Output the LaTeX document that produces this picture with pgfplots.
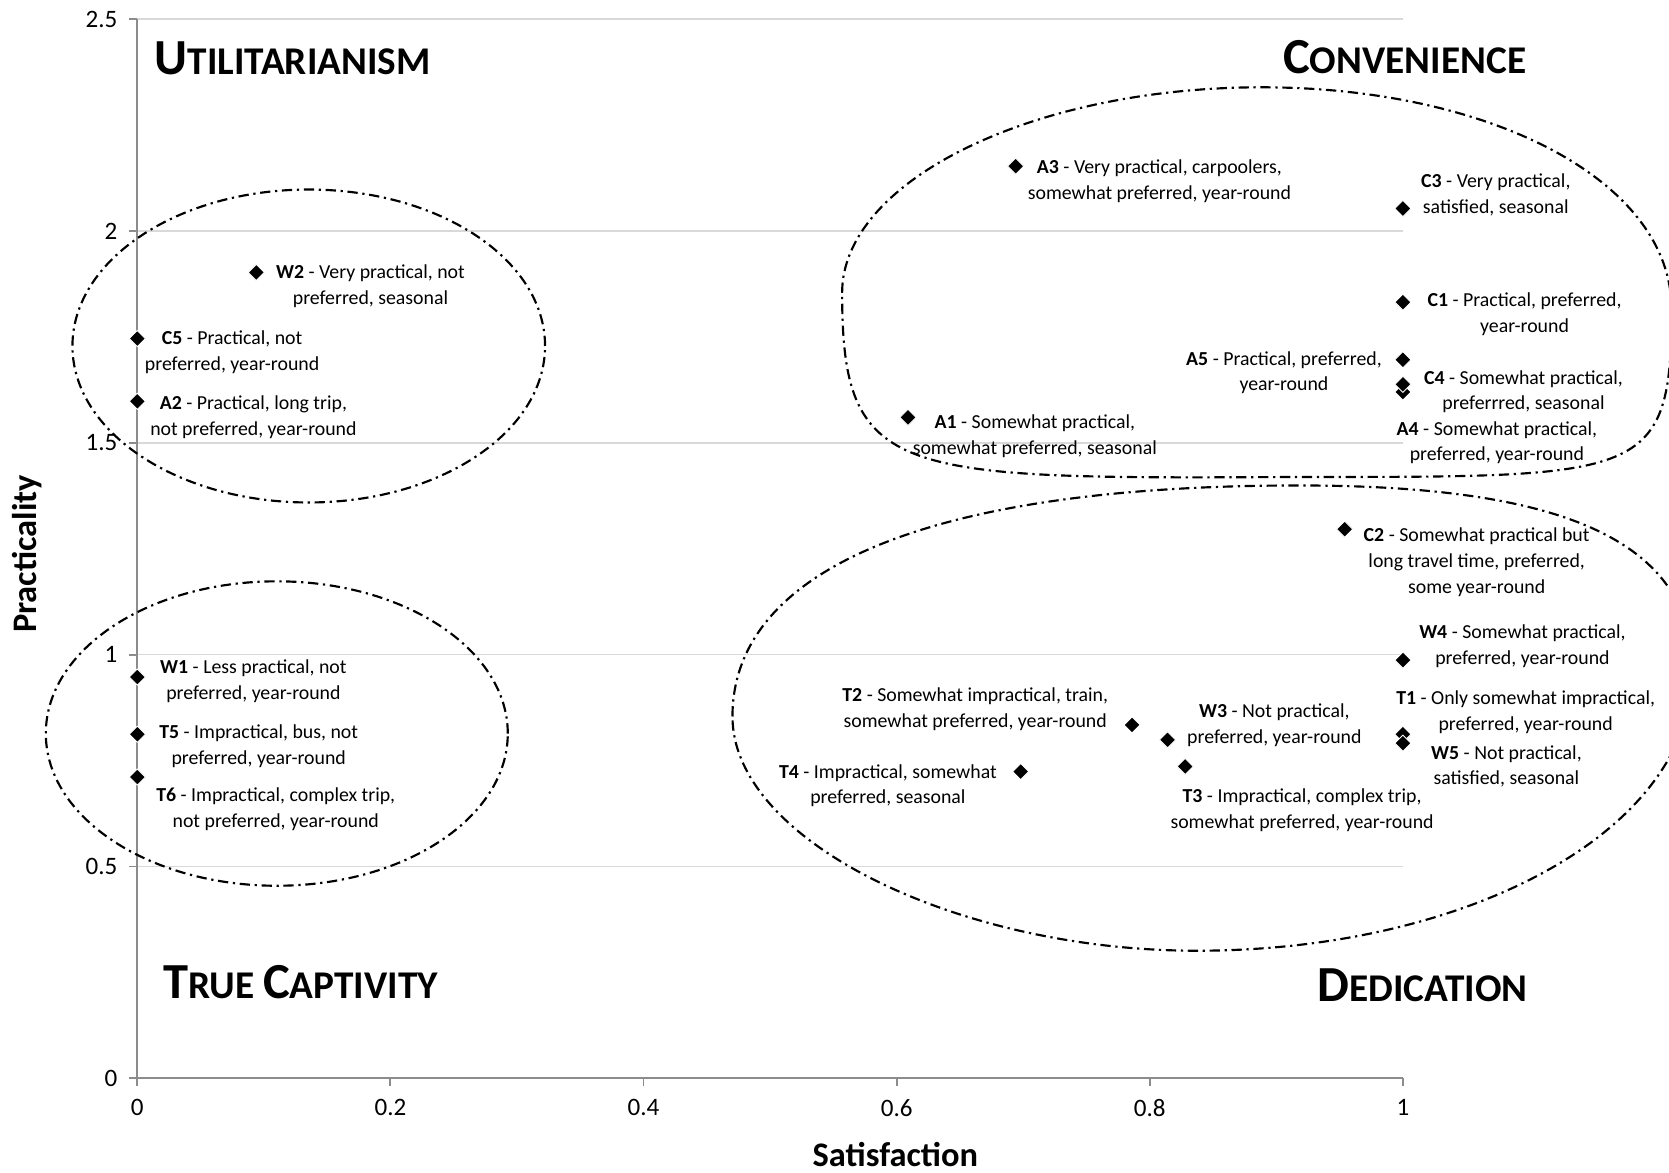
\documentclass[border=0pt]{standalone}
\usepackage{fontspec}
\setmainfont{Carlito}
\usepackage{pgfplots}
\pgfplotsset{compat=1.18}
\definecolor{axgray}{HTML}{8C8C8C}
\definecolor{gridgray}{HTML}{D9D9D9}
\begin{document}
\begin{tikzpicture}
\begin{axis}[
  at={(0,0)}, anchor=south west,
  scale only axis, width=23.78cm, height=19.9cm,
  xmin=0, xmax=1, ymin=0, ymax=2.5,
  axis x line*=bottom, axis y line*=left,
  axis line style={draw=axgray, line width=1.1pt},
  xtick={0,0.2,0.4,0.6,0.8,1}, ytick={0,0.5,1,1.5,2,2.5},
  ymajorgrids, grid style={draw=gridgray, line width=0.9pt},
  tick align=outside, major tick length=0.15cm,
  tick style={draw=axgray, line width=1pt},
  /pgf/number format/assume math mode=true,
  ticklabel style={font=\fontsize{13.4}{16}\selectfont},
  xticklabel style={yshift=-0.12cm},
  yticklabel style={xshift=-0.1cm},
  xlabel={Satisfaction}, ylabel={Practicality},
  every axis x label/.style={at={(axis description cs:0.599,0)}, yshift=-1.44cm, anchor=center, font=\bfseries\fontsize{18.4}{22}\selectfont},
  every axis y label/.style={at={(axis description cs:0,0.495)}, xshift=-2.08cm, rotate=90, anchor=center, font=\bfseries\fontsize{18.4}{22}\selectfont},
  clip=false,
]
\addplot[only marks, mark=square*, mark size=3.05pt, mark options={rotate=45, fill=black, draw=white, line width=0.45pt}] table[row sep=\\] {
x y \\
0 1.746 \\
0 1.598 \\
0 0.947 \\
0 0.812 \\
0 0.711 \\
0.094 1.902 \\
0.694 2.153 \\
0.609 1.560 \\
1 2.053 \\
1 1.832 \\
1 1.696 \\
1 1.620 \\
1 1.638 \\
0.954 1.296 \\
1 0.987 \\
1 0.812 \\
1 0.791 \\
0.786 0.834 \\
0.814 0.799 \\
0.828 0.736 \\
0.698 0.724 \\
};
\end{axis}
\begin{scope}[x=0.02cm, y=-0.02cm, shift={(-2.58cm,20.26cm)}]
  \tikzset{oval/.style={draw=black, line width=1.15pt, dash pattern=on 5.5pt off 2.5pt on 1.2pt off 2.5pt}}
  % ellipses
  \draw[oval] (290,325) ellipse [x radius=4.44cm, y radius=2.94cm];
  \draw[oval] (260,689) ellipse [x radius=4.34cm, y radius=2.86cm];
  % Convenience
  \draw[oval] (791,275) .. controls (791,170) and (970,82) .. (1185,82)
        .. controls (1400,82) and (1570,170) .. (1570,290)
        .. controls (1570,450) and (1545,448) .. (1221,448)
        .. controls (840,450) and (791,450) .. cycle;
  % Dedication
  \draw[oval] (688,673) .. controls (688,540) and (860,456) .. (1220,456)
        .. controls (1450,456) and (1590,500) .. (1590,630)
        .. controls (1590,780) and (1380,893) .. (1124,893)
        .. controls (900,893) and (688,790) .. cycle;
  % annotations
  \tikzset{ann/.style={font=\fontsize{10.6}{13.7}\selectfont, align=center, inner sep=0pt, anchor=center}}
  \node[ann] at (348,269) {\textbf{W2} - Very practical, not\\preferred, seasonal};
  \node[ann] at (218,331) {\textbf{C5} - Practical, not\\preferred, year-round};
  \node[ann] at (238,392) {\textbf{A2} - Practical, long trip,\\not preferred, year-round};
  \node[ann] at (238,640) {\textbf{W1} - Less practical, not\\preferred, year-round};
  \node[ann] at (243,701) {\textbf{T5} - Impractical, bus, not\\preferred, year-round};
  \node[ann] at (259,760) {\textbf{T6} - Impractical, complex trip,\\not preferred, year-round};
  \node[ann] at (1089,170) {\textbf{A3} - Very practical, carpoolers,\\somewhat preferred, year-round};
  \node[ann] at (1405,183) {\textbf{C3} - Very practical,\\satisfied, seasonal};
  \node[ann] at (1432,295) {\textbf{C1} - Practical, preferred,\\year-round};
  \node[ann] at (1206,350) {\textbf{A5} - Practical, preferred,\\year-round};
  \node[ann] at (1431,368) {\textbf{C4} - Somewhat practical,\\preferrred, seasonal};
  \node[ann] at (1406,416) {\textbf{A4} - Somewhat practical,\\preferred, year-round};
  \node[ann] at (972,410) {\textbf{A1} - Somewhat practical,\\somewhat preferred, seasonal};
  \node[ann] at (1387,528) {\textbf{C2} - Somewhat practical but\\long travel time, preferred,\\some year-round};
  \node[ann] at (1430,607) {\textbf{W4} - Somewhat practical,\\preferred, year-round};
  \node[ann] at (916,666) {\textbf{T2} - Somewhat impractical, train,\\somewhat preferred, year-round};
  \node[ann] at (1197,681) {\textbf{W3} - Not practical,\\preferred, year-round};
  \node[ann] at (1433,669) {\textbf{T1} - Only somewhat impractical,\\preferred, year-round};
  \node[ann] at (1415,720) {\textbf{W5} - Not practical,\\satisfied, seasonal};
  \node[ann] at (834,738) {\textbf{T4} - Impractical, somewhat\\preferred, seasonal};
  \node[ann] at (1223,761) {\textbf{T3} - Impractical, complex trip,\\somewhat preferred, year-round};
  % quadrant titles
  \tikzset{quad/.style={font=\bfseries, inner sep=0pt, anchor=base west}}
  \node[quad] at (145,70) {{\fontsize{27}{30}\selectfont U}{\fontsize{21}{24}\selectfont TILITARIANISM}};
  \node[quad] at (1205,69) {{\fontsize{27}{30}\selectfont C}{\fontsize{21}{24}\selectfont ONVENIENCE}};
  \node[quad] at (153,938) {{\fontsize{27}{30}\selectfont T}{\fontsize{21}{24}\selectfont RUE }{\fontsize{27}{30}\selectfont C}{\fontsize{21}{24}\selectfont APTIVITY}};
  \node[quad] at (1237,941) {{\fontsize{27}{30}\selectfont D}{\fontsize{21}{24}\selectfont EDICATION}};
\end{scope}
\pgfresetboundingbox
\path[use as bounding box] (-2.58cm,-1.78cm) rectangle (28.78cm,20.26cm);
\end{tikzpicture}
\end{document}
